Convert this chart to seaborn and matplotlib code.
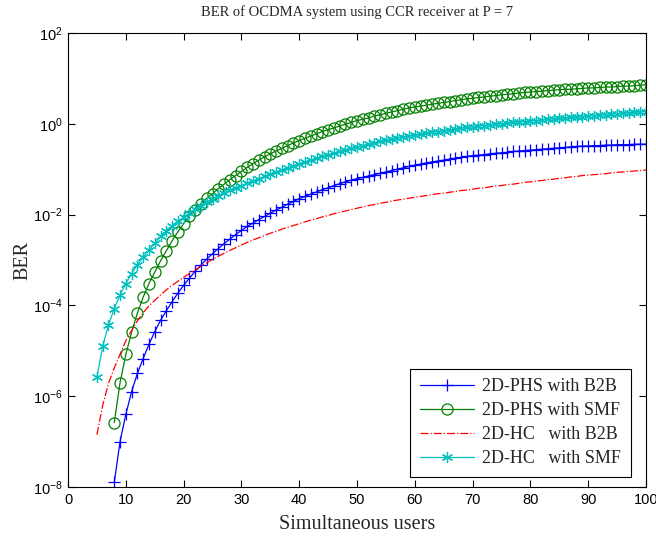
import numpy as np
import pandas as pd
import matplotlib
matplotlib.use("Agg")
import matplotlib.pyplot as plt
from matplotlib.ticker import NullLocator, FixedLocator
import seaborn as sns

# ---- data (log10 of BER) ----
users_phs = list(range(8, 101))
users_hc = list(range(5, 101))

log_phs_b2b = [-7.90, -7.00, -6.40, -5.90, -5.50, -5.17, -4.86, -4.58, -4.33, -4.12,
               -3.92, -3.73, -3.56, -3.40, -3.25, -3.11, -2.98, -2.86, -2.75, -2.64,
               -2.54, -2.44, -2.35, -2.26, -2.19, -2.11, -2.04, -1.97, -1.90, -1.84,
               -1.77, -1.71, -1.65, -1.60, -1.55, -1.50, -1.45, -1.41, -1.36, -1.32,
               -1.28, -1.24, -1.21, -1.18, -1.15, -1.12, -1.09, -1.06, -1.03, -1.00,
               -0.97, -0.94, -0.91, -0.89, -0.86, -0.84, -0.82, -0.80, -0.78, -0.76,
               -0.74, -0.72, -0.70, -0.69, -0.68, -0.66, -0.65, -0.64, -0.63, -0.61,
               -0.60, -0.59, -0.58, -0.57, -0.56, -0.55, -0.54, -0.53, -0.52, -0.51,
               -0.50, -0.49, -0.49, -0.48, -0.48, -0.47, -0.47, -0.46, -0.46, -0.46,
               -0.45, -0.45, -0.45]

log_phs_smf = [-6.58, -5.70, -5.08, -4.59, -4.17, -3.82, -3.52, -3.27, -3.02, -2.80,
               -2.58, -2.38, -2.20, -2.03, -1.89, -1.76, -1.64, -1.54, -1.43, -1.33,
               -1.23, -1.14, -1.05, -0.96, -0.88, -0.80, -0.73, -0.66, -0.60, -0.54,
               -0.48, -0.42, -0.37, -0.32, -0.27, -0.22, -0.17, -0.13, -0.09, -0.05,
               -0.01, 0.03, 0.07, 0.10, 0.13, 0.17, 0.20, 0.23, 0.26, 0.29,
               0.32, 0.35, 0.37, 0.39, 0.41, 0.43, 0.45, 0.47, 0.49, 0.51,
               0.53, 0.55, 0.56, 0.58, 0.59, 0.61, 0.62, 0.64, 0.65, 0.66,
               0.68, 0.69, 0.70, 0.71, 0.72, 0.73, 0.74, 0.75, 0.76, 0.76,
               0.77, 0.78, 0.79, 0.79, 0.80, 0.81, 0.81, 0.82, 0.83, 0.83,
               0.84, 0.85, 0.86]

log_hc_b2b = [-6.85, -6.20, -5.72, -5.38, -5.08, -4.78, -4.55, -4.34, -4.16, -4.01,
              -3.89, -3.77, -3.66, -3.56, -3.47, -3.38, -3.30, -3.22, -3.14, -3.06,
              -2.99, -2.92, -2.85, -2.79, -2.73, -2.67, -2.61, -2.56, -2.51, -2.46,
              -2.41, -2.37, -2.32, -2.28, -2.24, -2.20, -2.16, -2.12, -2.09, -2.05,
              -2.02, -1.98, -1.95, -1.92, -1.89, -1.86, -1.83, -1.80, -1.78, -1.75,
              -1.73, -1.70, -1.68, -1.66, -1.64, -1.62, -1.60, -1.58, -1.56, -1.54,
              -1.53, -1.51, -1.49, -1.47, -1.46, -1.44, -1.42, -1.41, -1.39, -1.37,
              -1.36, -1.34, -1.33, -1.31, -1.29, -1.28, -1.26, -1.25, -1.23, -1.22,
              -1.20, -1.19, -1.17, -1.16, -1.14, -1.13, -1.12, -1.11, -1.10, -1.08,
              -1.07, -1.06, -1.05, -1.04, -1.03, -1.02]

log_hc_smf = [-5.58, -4.90, -4.43, -4.07, -3.77, -3.52, -3.30, -3.11, -2.94, -2.78,
              -2.63, -2.48, -2.36, -2.25, -2.15, -2.06, -1.97, -1.88, -1.80, -1.72,
              -1.65, -1.58, -1.52, -1.46, -1.41, -1.36, -1.31, -1.26, -1.21, -1.16,
              -1.11, -1.06, -1.01, -0.97, -0.92, -0.88, -0.84, -0.80, -0.76, -0.72,
              -0.68, -0.65, -0.61, -0.58, -0.54, -0.51, -0.48, -0.45, -0.42, -0.39,
              -0.36, -0.34, -0.31, -0.29, -0.27, -0.25, -0.23, -0.21, -0.19, -0.17,
              -0.15, -0.13, -0.12, -0.10, -0.08, -0.07, -0.05, -0.04, -0.02, -0.01,
              0.00, 0.01, 0.03, 0.04, 0.05, 0.06, 0.07, 0.08, 0.10, 0.11,
              0.12, 0.13, 0.14, 0.15, 0.16, 0.17, 0.18, 0.19, 0.20, 0.21,
              0.22, 0.23, 0.24, 0.25, 0.26, 0.27]

labels = ["2D-PHS with B2B", "2D-PHS with SMF", "2D-HC   with B2B", "2D-HC   with SMF"]
x_ticks = list(range(0, 101, 10))
y_ticks = [1e-8, 1e-6, 1e-4, 1e-2, 1e0, 1e2]

# ---- style ----
sns.set_style("ticks")
plt.rcParams["font.family"] = ["Liberation Sans", "DejaVu Sans"]
plt.rcParams["mathtext.fontset"] = "custom"
plt.rcParams["mathtext.rm"] = "Liberation Sans"
plt.rcParams["mathtext.it"] = "Liberation Sans:italic"
plt.rcParams["mathtext.bf"] = "Liberation Sans:bold"
serif = ["Liberation Serif", "DejaVu Serif"]

fig = plt.figure(figsize=(6.56, 5.39), dpi=100)
ax = fig.add_axes([0.1037, 0.0965, 0.8811, 0.8423])

series = [
    (users_phs, log_phs_b2b, dict(color="#0000ff", marker="+", markersize=9, linestyle="-")),
    (users_phs, log_phs_smf, dict(color="#008000", marker="o", markersize=8, linestyle="-",
                                  markerfacecolor="none")),
    (users_hc, log_hc_b2b, dict(color="#ff0000", marker=None, linestyle="-.")),
    (users_hc, log_hc_smf, dict(color="#00bfbf", marker=(6, 2, 0), markersize=8, linestyle="-")),
]

for (xs, ls, st), lab in zip(series, labels):
    df = pd.DataFrame({"users": xs, "BER": np.power(10.0, np.array(ls))})
    kw = dict(st)
    col = kw.pop("color")
    lstyle = kw.pop("linestyle")
    sns.lineplot(data=df, x="users", y="BER", ax=ax, color=col, linestyle=lstyle,
                 linewidth=0.9, markeredgecolor=col, markeredgewidth=0.9,
                 label=lab, errorbar=None, sort=False, **kw)

ax.set_yscale("log")
ax.set_xlim(0, 100)
ax.set_ylim(1e-8, 1e2)
ax.xaxis.set_major_locator(FixedLocator(x_ticks))
ax.yaxis.set_major_locator(FixedLocator(y_ticks))
ax.yaxis.set_minor_locator(NullLocator())
ax.xaxis.set_minor_locator(NullLocator())
ax.tick_params(direction="in", top=True, right=True, length=5, width=0.8,
               labelsize=10.5, colors="black", pad=4)
for sp in ax.spines.values():
    sp.set_visible(True)
    sp.set_linewidth(0.8)
    sp.set_color("black")

ax.set_title("BER of OCDMA system using CCR receiver at P = 7", family=serif,
             fontsize=10.5, pad=12)
ax.set_xlabel("Simultaneous users", family=serif, fontsize=14.5, labelpad=6)
ax.set_ylabel("BER", family=serif, fontsize=14.5, labelpad=0)

leg = ax.legend(loc="lower right", bbox_to_anchor=(0.974, 0.022), borderaxespad=0,
                prop={"family": serif, "size": 13}, frameon=True, fancybox=False,
                edgecolor="black", framealpha=1, handlelength=3.0, numpoints=1,
                labelspacing=0.38, borderpad=0.55, handletextpad=0.45)
leg.get_frame().set_linewidth(0.8)

fig.savefig("out.png", dpi=100)
